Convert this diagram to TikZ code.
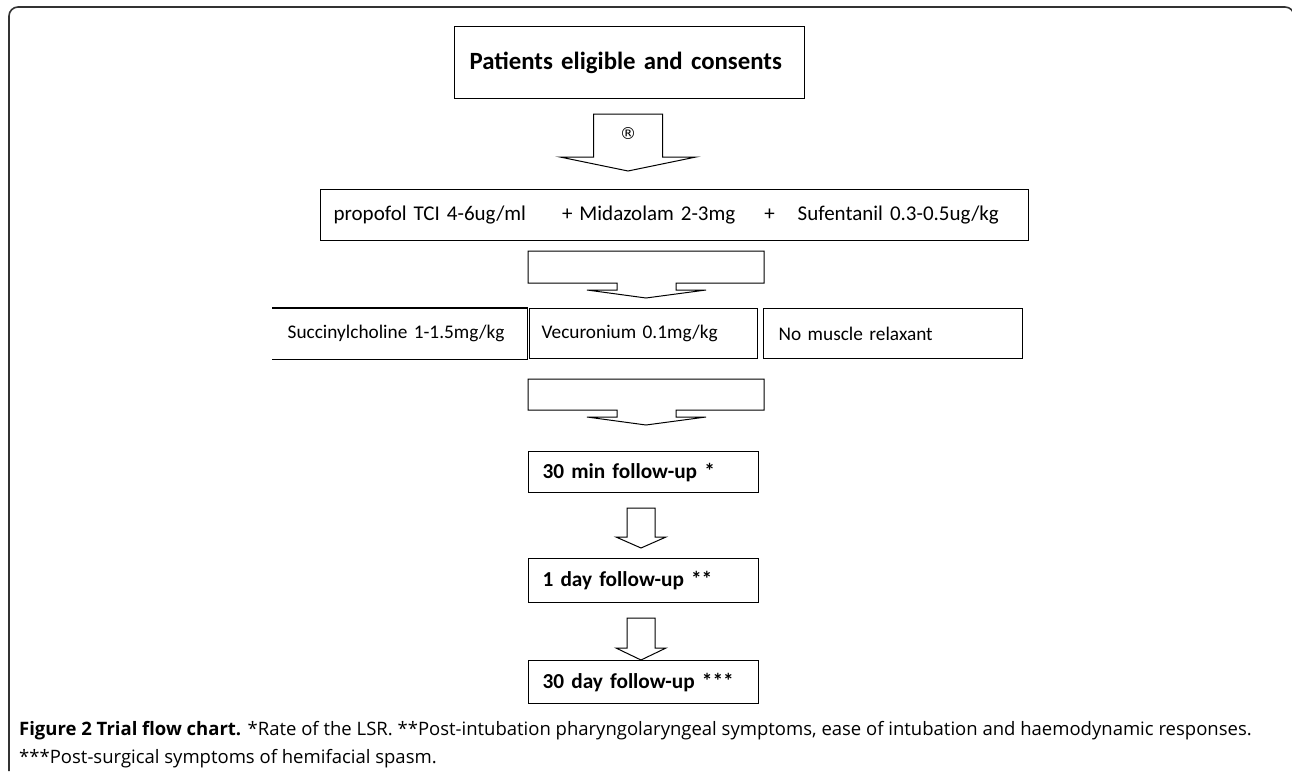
\documentclass[tikz,border=0pt]{standalone}
\usepackage{fontspec}
\setmainfont{Carlito}
\newfontfamily\capfont{Open Sans}
\newfontfamily\symfont{DejaVu Sans}
\usetikzlibrary{calc}
% down arrow: centre x, top, shaft bottom, tip, shaft half width, wing half width
\newcommand{\downblock}[6]{%
  \draw[blockarrow] ({#1-#5},#2) -- ({#1+#5},#2) -- ({#1+#5},#3) -- ({#1+#6},#3)
    -- (#1,#4) -- ({#1-#6},#3) -- ({#1-#5},#3) -- cycle;}
% wide arrow: top and shaft bottom
\newcommand{\wideblock}[2]{%
  \draw[blockarrow] (528,#1) -- (764,#1) -- (764,#2) -- (676,#2) -- (676,{#2+7})
    -- (706,{#2+7}) -- (646,{#2+15}) -- (587,{#2+7}) -- (617,{#2+7}) -- (617,#2)
    -- (528,#2) -- cycle;}

\begin{document}
\begin{tikzpicture}[x=1pt,y=-1pt]
        \tikzstyle{flowbox} = [rectangle, draw, line width=1.3pt, anchor=north west, align=left, inner ysep=0pt]
        \tikzstyle{blockarrow} = [line width=1pt, line join=miter]
        \tikzstyle{frame} = [draw=black!80, line width=1.6pt, rounded corners=9pt]

        \useasboundingbox (0,0) rectangle (1292,771);
        \draw[frame] (9,771) -- (9,7) -- (1294,7) -- (1294,771);

        % Nodes
        \node[flowbox, minimum width=350pt, minimum height=72pt, inner xsep=15pt, text width=320pt,
              font=\fontsize{24.8}{26}\selectfont\bfseries] (pat) at (454,26) {Patients eligible and consents};
        \node[flowbox, minimum width=708pt, minimum height=51pt, inner xsep=13pt, text width=682pt,
              font=\fontsize{21}{22}\selectfont] (prop) at (320,189)
              {propofol TCI 4-6ug/ml\hspace{36pt}+ Midazolam 2-3mg\hspace{29pt}+\hspace{23pt}Sufentanil 0.3-0.5ug/kg};
        \node[flowbox, draw=none, minimum width=254pt, minimum height=50pt, inner xsep=15pt, text width=224pt,
              font=\fontsize{19.3}{21}\selectfont] (succ) at (272,308) {Succinylcholine 1-1.5mg/kg};
        \node[flowbox, minimum width=228pt, minimum height=50pt, inner xsep=12pt, text width=204pt,
              font=\fontsize{19.3}{21}\selectfont] (vec) at (529,308) {Vecuronium 0.1mg/kg};
        \node[flowbox, minimum width=259pt, minimum height=50pt, inner xsep=15pt, text width=229pt,
              font=\fontsize{19.3}{21}\selectfont] (nomr) at (763,308) {No muscle relaxant};
        \node[flowbox, minimum width=230pt, minimum height=41pt, inner xsep=14pt, text width=202pt,
              font=\fontsize{21.3}{23}\selectfont\bfseries] (fmin) at (528,451) {30 min follow-up *};
        \node[flowbox, minimum width=230pt, minimum height=44pt, inner xsep=14pt, text width=202pt,
              font=\fontsize{21.3}{23}\selectfont\bfseries] (fday) at (528,558) {1 day follow-up **};
        \node[flowbox, minimum width=230pt, minimum height=43pt, inner xsep=14pt, text width=202pt,
              font=\fontsize{21.3}{23}\selectfont\bfseries] (fmon) at (528,660) {30 day follow-up ***};
        \draw[line width=1.3pt] (succ.north west) -- (succ.north east) -- (succ.south east) -- (succ.south west);

        % Arrows
        \downblock{628}{114}{157}{171}{34.5}{68}
        \node[font=\symfont\fontsize{16.5}{18}\selectfont] (reg) at (628,134) {®};
        \wideblock{251}{283}
        \wideblock{379}{410}
        \downblock{641}{508}{537}{548}{14}{25}
        \downblock{641}{618}{648}{660}{14}{25}

        % Caption
        \node[anchor=west, inner sep=0pt, font=\capfont\fontsize{18.5}{20}\selectfont] (cap1) at (19,731)
              {\textbf{Figure 2 Trial flow chart.} *Rate of the LSR. **Post-intubation pharyngolaryngeal symptoms, ease of intubation and haemodynamic responses.};
        \node[anchor=west, inner sep=0pt, font=\capfont\fontsize{18.5}{20}\selectfont] (cap2) at (19,759)
              {***Post-surgical symptoms of hemifacial spasm.};
    \end{tikzpicture}
\end{document}
